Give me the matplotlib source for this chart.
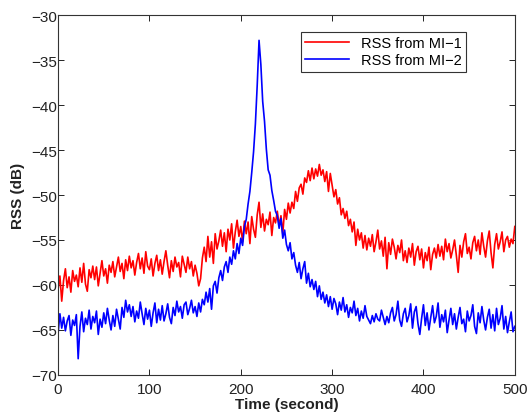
import numpy as np
import matplotlib
matplotlib.use("Agg")
import matplotlib.pyplot as plt

# time axis, one reading every 2 seconds
t = list(range(0, 502, 2))

# RSS from MI-1 (dB)
rss_mi1 = [
    -60.5, -59.0, -61.8, -59.5, -58.2, -60.3, -59.1, -60.8, -58.4, -59.6,
    -58.9, -60.2, -58.1, -59.7, -57.6, -59.9, -60.7, -58.3, -59.2, -57.9,
    -59.4, -58.0, -60.1, -58.7, -57.3, -59.0, -58.2, -59.8, -57.8, -58.6,
    -57.4, -59.1, -58.0, -56.9, -58.5, -57.6, -59.3, -57.2, -58.4, -56.8,
    -58.1, -57.3, -58.9, -57.5, -56.5, -58.2, -57.0, -58.7, -56.3, -57.9,
    -58.3, -57.1, -59.0, -57.6, -56.7, -58.4, -57.2, -58.8, -57.4, -56.2,
    -57.8, -59.2, -57.3, -58.5, -56.9, -58.0, -57.5, -59.1, -56.8, -57.7,
    -58.6, -56.9, -58.2, -57.4, -59.0, -57.8, -58.7, -60.1, -59.3, -57.0,
    -55.8, -57.4, -54.6, -56.9, -55.2, -57.6, -54.3, -56.0, -55.1, -53.9,
    -55.7, -54.2, -56.3, -53.8, -55.0, -53.2, -55.9, -54.1, -52.8, -54.6,
    -53.5, -55.2, -52.9, -54.3, -53.0, -55.4, -52.4, -53.8, -54.7, -52.2,
    -50.8, -53.6, -52.1, -54.0, -52.7, -53.3, -51.9, -54.5, -52.5, -53.1,
    -51.8, -53.4, -52.3, -54.3, -51.6, -52.7, -50.9, -52.0, -50.8, -51.5,
    -49.6, -50.7, -49.2, -48.8, -49.9, -48.1, -48.6, -47.3, -48.4, -47.0,
    -48.2, -47.1, -47.9, -46.6, -47.8, -47.2, -48.5, -47.4, -49.6, -47.6,
    -48.9, -50.2, -49.4, -51.0, -50.3, -52.2, -51.5, -52.6, -51.8, -53.4,
    -52.7, -54.1, -53.0, -55.6, -53.8, -55.0, -54.2, -55.9, -54.5, -56.1,
    -54.8, -55.7, -54.4, -56.3, -55.2, -53.9, -56.0, -55.1, -56.8, -54.7,
    -58.2, -55.3, -56.6, -54.9, -55.8, -57.1, -55.6, -56.4, -55.0, -57.3,
    -56.2, -57.5, -55.9, -56.9, -55.4, -57.8, -56.3, -55.7, -57.2, -56.0,
    -58.1, -56.4, -57.3, -55.8, -58.3, -56.6, -55.9, -57.0, -55.5, -56.8,
    -55.7, -57.2, -54.9, -56.3, -55.4, -57.0, -56.1, -55.0, -56.7, -58.6,
    -55.6, -56.9, -55.2, -54.3, -56.5, -55.8, -57.1, -55.3, -54.6, -56.2,
    -55.0, -56.6, -54.2, -55.7, -56.9, -55.1, -54.0, -56.4, -58.1, -55.5,
    -54.3, -56.0, -55.2, -54.1, -56.3, -55.0, -54.6, -55.8, -54.9, -55.4,
    -53.5,
]

# RSS from MI-2 (dB)
rss_mi2 = [
    -65.4, -63.2, -64.8, -63.6, -65.1, -64.0, -63.4, -65.6, -63.9, -64.5,
    -63.3, -68.2, -64.6, -63.0, -65.2, -63.7, -64.4, -62.8, -64.9, -63.5,
    -64.2, -62.9, -65.5, -63.8, -64.7, -63.1, -64.3, -62.6, -63.9, -65.0,
    -63.4, -64.6, -62.7, -63.8, -64.9, -62.5, -63.6, -61.7, -63.0, -62.2,
    -63.5, -62.4, -64.1, -62.9, -63.7, -61.9, -63.2, -64.4, -62.6, -63.8,
    -62.8, -64.6, -63.1, -62.0, -64.2, -62.7, -63.9, -62.3, -64.0, -63.2,
    -62.1, -63.6, -64.3, -62.5, -63.4, -61.8, -63.0, -62.4, -63.7, -62.2,
    -61.9, -63.3, -62.6, -61.7, -63.1, -62.4, -63.5, -62.0, -63.0, -61.6,
    -62.2, -60.8, -61.9, -60.4, -62.7, -60.1, -59.6, -60.9, -59.2, -58.4,
    -59.5, -58.0, -57.4, -58.6, -56.9, -57.7, -56.2, -57.1, -55.4, -56.5,
    -54.8, -55.6, -53.5, -52.7, -51.0, -49.6, -47.5, -45.2, -42.1, -37.8,
    -32.8, -35.5, -39.6, -41.8, -44.9, -47.2, -47.8, -49.5, -50.6, -51.8,
    -52.3, -53.7, -52.6, -54.8, -53.9, -55.5, -56.2, -55.3, -57.1, -56.4,
    -57.8, -58.6, -57.5, -59.3, -58.2, -57.4, -59.8, -58.7, -60.2, -59.4,
    -60.5, -59.6, -61.3, -60.1, -61.6, -60.8, -62.0, -61.1, -62.4, -61.3,
    -62.7, -61.5, -62.1, -63.3, -61.9, -62.8, -61.4, -63.0, -62.2, -63.6,
    -62.5, -63.1, -61.8, -63.4, -62.6, -64.0, -62.9, -63.7, -62.3, -63.5,
    -63.9, -64.3, -63.4, -64.1, -63.2, -63.8, -64.0, -62.8, -63.6, -64.4,
    -63.5, -64.2, -63.1, -62.5, -64.0, -63.3, -61.8, -63.9, -64.6, -63.2,
    -62.6, -64.1, -63.4, -62.1, -64.8, -63.0, -62.4, -64.3, -65.5, -63.7,
    -62.2, -64.5, -63.1, -65.0, -63.6, -62.3, -64.2, -63.5, -62.0, -64.7,
    -63.3, -64.1, -62.8, -65.3, -63.9, -62.6, -64.4, -63.2, -64.9, -63.6,
    -62.5, -64.3, -63.8, -65.2, -62.9, -64.0, -63.4, -62.2, -64.6, -65.4,
    -63.1, -64.2, -62.4, -63.9, -65.0, -63.6, -62.7, -64.8, -63.3, -65.1,
    -62.6, -64.4, -63.7, -62.3, -64.9, -63.5, -65.3, -64.1, -63.0, -65.2,
    -64.6,
]

plt.rcParams['font.family'] = ['Liberation Sans', 'DejaVu Sans']

fig = plt.figure(figsize=(5.28, 4.14), dpi=100)
ax = fig.add_axes([0.110, 0.092, 0.865, 0.869])

ax.plot(t, rss_mi1, color="#ff0000", linewidth=1.2, label="RSS from MI\u22121")
ax.plot(t, rss_mi2, color="#0000ff", linewidth=1.2, label="RSS from MI\u22122")

ax.set_xlim(0, 500)
ax.set_ylim(-70, -30)
ax.set_xticks([0, 100, 200, 300, 400, 500])
ax.set_yticks(range(-70, -29, 5))
ax.tick_params(direction="in", top=True, right=True, labelsize=11, length=4,
               width=0.6, labelcolor="#222222")
ax.tick_params(axis="y", pad=1)
ax.tick_params(axis="x", pad=5)
for s in ax.spines.values():
    s.set_linewidth(0.8)
    s.set_color("#333333")

ax.set_xlabel("Time (second)", fontsize=11, fontweight="bold", labelpad=1, color="#222222")
ax.set_ylabel("RSS (dB)", fontsize=11, fontweight="bold", labelpad=4, color="#222222")

leg = ax.legend(loc="upper right", bbox_to_anchor=(0.893, 0.953), fontsize=10.5,
                fancybox=False, framealpha=1, edgecolor="#333333",
                handlelength=3.0, borderpad=0.3, labelspacing=0.2, borderaxespad=0)
leg.get_frame().set_linewidth(0.8)

fig.savefig("out.png", dpi=100)
